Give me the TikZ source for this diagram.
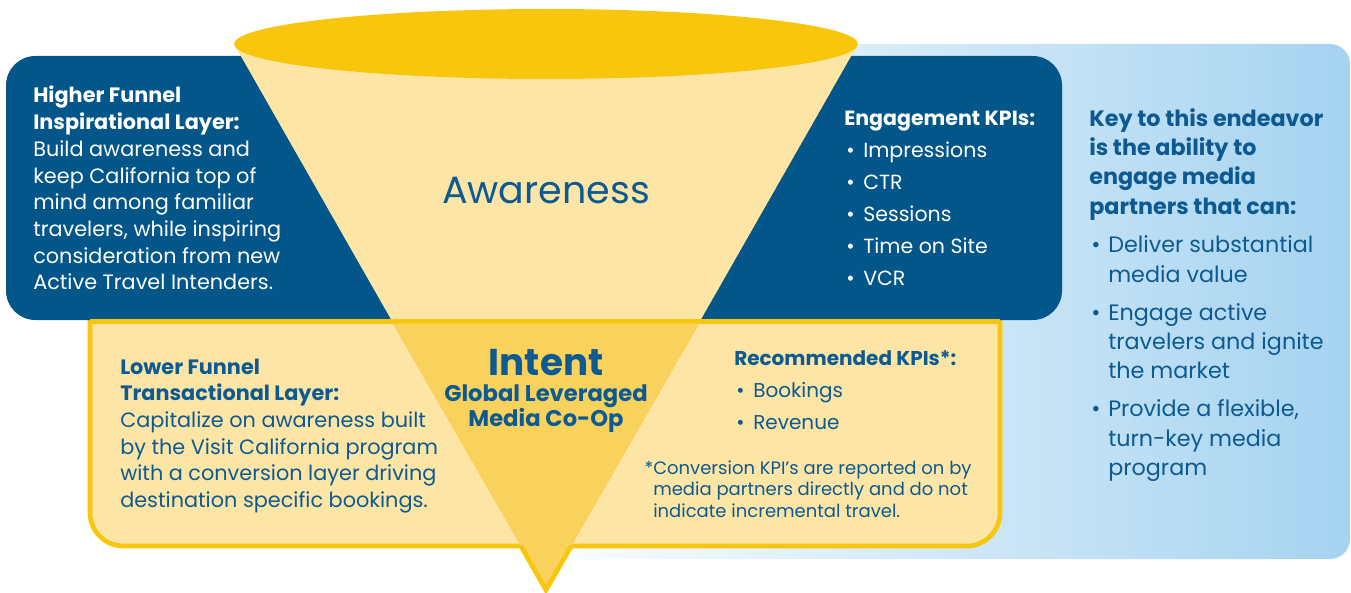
\documentclass[tikz,border=0pt]{standalone}
\usepackage{fontspec}
\setmainfont{Poppins}
\definecolor{navy}{HTML}{02568A}
\definecolor{txtblue}{HTML}{0D5A92}
\definecolor{paleyel}{HTML}{FDE5A6}
\definecolor{goldyel}{HTML}{F8C70D}
\definecolor{midyel}{HTML}{F9D25E}
\definecolor{skyblue}{HTML}{A5D3F0}
\newcommand\Ln[1]{\hbox{#1}}
\newcommand\bul{\makebox[14.25pt][l]{\hspace*{1.5pt}\textbullet}}
\newcommand\hang{\hspace*{14.25pt}}
\tikzset{
  txt/.style={anchor=base west, inner sep=0pt},
  whitetxt/.style={txt, text=white},
  bluetxt/.style={txt, text=txtblue},
  body/.style={font=\fontsize{15.6}{20}\selectfont},
}
\begin{document}
\begin{tikzpicture}[x=0.75pt,y=-0.75pt]
\useasboundingbox (0,0) rectangle (1351,592);
% light blue background panel
\shade[left color=white, right color=skyblue, rounded corners=15] (520,44) rectangle (1350,559);
% lower yellow box (top hidden under dark band)
\draw[draw=goldyel, line width=3.5, fill=paleyel, rounded corners=25] (90,280) rectangle (1000,546);
% dark band
\fill[navy, rounded corners=22] (6,56) rectangle (1062,320);
% upper cone
\fill[paleyel] (234,44) -- (858,44) -- (700.6,320) -- (391.4,320) -- cycle;
% top border of lower box
\draw[goldyel, line width=3.5] (90,321.75) -- (1000,321.75);
% lower cone part
\fill[midyel] (392.6,323.5) -- (699.4,323.5) -- (546,590) -- cycle;
\coordinate (tipL) at (520.8,546);
\coordinate (tipR) at (571.2,546);
\coordinate (tip) at (546,590);
\draw[goldyel, line width=3.5, line join=miter] (tipL) -- (tip) -- (tipR);
% funnel mouth
\fill[goldyel] (546,44) ellipse [x radius=312, y radius=35];

% left dark text
\node[whitetxt, body] (higher) at (33,103) {\vtop{%
  \Ln{\bfseries Higher Funnel}
  \Ln{\bfseries Inspirational Layer:}
  \Ln{Build awareness and}
  \Ln{keep California top of}
  \Ln{mind among familiar}
  \Ln{travelers, while inspiring}
  \Ln{consideration from new}
  \Ln{Active Travel Intenders.}}};

% awareness
\node[anchor=base, inner sep=0pt, text=txtblue, font=\fontsize{28.5}{34}\selectfont] (aware) at (546,203) {Awareness};

% engagement KPIs
\node[whitetxt, font=\fontsize{15.4}{24}\selectfont] (engage) at (844,125) {\vtop{%
  \Ln{\bfseries Engagement KPIs:}
  \Ln{\bul Impressions}
  \Ln{\bul CTR}
  \Ln{\bul Sessions}
  \Ln{\bul Time on Site}
  \Ln{\bul VCR}}};

% key column
\node[bluetxt, font=\fontsize{16.7}{22}\selectfont] (key) at (1089,126) {\vtop{%
  \Ln{\bfseries Key to this endeavor}
  \Ln{\bfseries is the ability to}
  \Ln{\bfseries engage media}
  \Ln{\bfseries partners that can:}
  \vskip 7pt
  \Ln{\bul Deliver substantial}
  \Ln{\hang media value}
  \vskip 6.5pt
  \Ln{\bul Engage active}
  \Ln{\hang travelers and ignite}
  \Ln{\hang the market}
  \vskip 6.5pt
  \Ln{\bul Provide a flexible,}
  \Ln{\hang turn-key media}
  \Ln{\hang program}}};

% lower left text
\node[bluetxt, body] (lower) at (120,374) {\vtop{%
  \Ln{\bfseries Lower Funnel}
  \Ln{\bfseries Transactional Layer:}
  \Ln{Capitalize on awareness built}
  \Ln{by the Visit California program}
  \Ln{with a conversion layer driving}
  \Ln{destination specific bookings.}}};

% intent
\node[anchor=base, inner sep=0pt, text=txtblue, font=\fontsize{28}{32}\selectfont\bfseries] (intent) at (546,375) {Intent};
\node[anchor=base, inner sep=0pt, text=txtblue, font=\fontsize{17}{19}\selectfont\bfseries] (global) at (546,401) {Global Leveraged};
\node[anchor=base, inner sep=0pt, text=txtblue, font=\fontsize{17}{19}\selectfont\bfseries] (coop) at (546,426) {Media Co-Op};

% recommended KPIs
\node[bluetxt, font=\fontsize{15}{24}\selectfont] (recom) at (734,365) {\vtop{%
  \Ln{\bfseries Recommended KPIs*:}
  \Ln{\bul Bookings}
  \Ln{\bul Revenue}}};

% footnote
\node[bluetxt, font=\fontsize{13.5}{16.2}\selectfont] (foot) at (653,474) {\vtop{%
  \Ln{\llap{*}Conversion KPI’s are reported on by}
  \Ln{media partners directly and do not}
  \Ln{indicate incremental travel.}}};
\end{tikzpicture}
\end{document}
